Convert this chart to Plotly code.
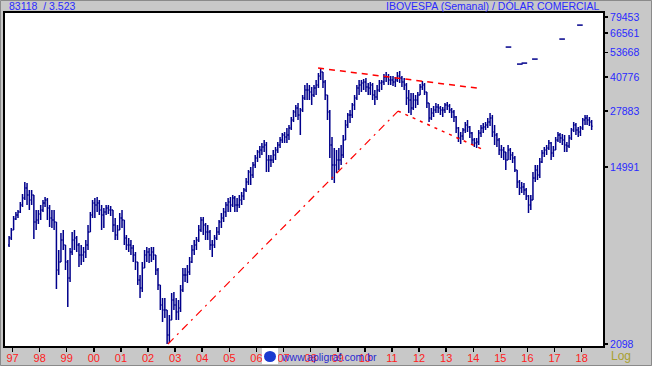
import pandas as pd
import plotly.graph_objects as go

# Monthly bars, Nov 1996 .. May 2018 (IBOVESPA in US$)
START = "1996-11-01"
HIGH = [
    6965, 7612,
    8698, 9093, 9297, 10162, 11106, 12690, 12550, 11610, 11610, 10983, 9297, 9297,
    9828, 10389, 10742, 10624, 9828, 9297, 9297, 8137, 5962, 7201, 7444, 6302,
    5335, 6096, 7281, 7444, 6965, 6444, 6302, 6164, 6662, 7870, 9093, 10389,
    10624, 10742, 10389, 9828, 9506, 9828, 9828, 9719, 9297, 8507, 7870, 8993,
    9297, 8319, 7043, 6812, 6662, 6302, 5831, 5218, 4516, 5218, 5962, 6164,
    6096, 6164, 6164, 5639, 4881, 4042, 3498, 3498, 3061, 2896, 3698, 3739,
    3498, 3421, 4042, 4881, 4881, 5046, 5515, 6302, 6662, 6888, 7870, 8602,
    8602, 8047, 7870, 7444, 6662, 7043, 7697, 8319, 8993, 9506, 10162, 10624,
    10742, 10983, 10862, 10624, 10983, 11356, 11872, 13267, 14499, 14992, 15851, 17131,
    18110, 18933, 19576, 20238, 19795, 17131, 17131, 18110, 18724, 19795, 20925, 21875,
    22120, 23126, 23908, 26132, 28243, 29857, 30528, 28880, 33368, 37284, 38122, 37284,
    36468, 37284, 39412, 42602, 45035, 43079, 39412, 33368, 28243, 20925, 18517, 18110,
    18517, 19143, 21394, 25273, 27319, 28243, 30528, 33368, 37284, 39412, 39412, 39855,
    40301, 38122, 38549, 38122, 35270, 37284, 39412, 39412, 42130, 43079, 42130, 41206,
    41206, 40752, 43079, 43559, 41206, 40301, 38122, 35270, 34115, 34115, 33368, 34496,
    37700, 38978, 38122, 34496, 30528, 28880, 29529, 30528, 30190, 29529, 29203, 30528,
    30869, 30190, 28880, 28243, 26423, 23385, 22120, 23126, 24719, 25273, 23645, 22120,
    20694, 20694, 22615, 23908, 24446, 24719, 25843, 27319, 26717, 23908, 21875, 20694,
    19143, 18724, 17713, 19143, 18517, 17713, 16943, 14499, 12975, 12690, 12550, 11872,
    10983, 10983, 14181, 15328, 15328, 16571, 18110, 18724, 19143, 20238, 19795, 18933,
    20925, 22120, 21875, 21633, 21394, 19795, 21394, 23126, 24719, 24446, 23385, 23645,
    25843, 26717, 26717, 26132, 25273,
]
LOW = [
    6164, 6662,
    7444, 8319, 8507, 8993, 9612, 10389, 9828, 9297, 9828, 6737, 7444, 7958,
    8319, 9093, 9612, 8319, 7697, 7612, 7444, 3866, 4516, 5218, 5962, 4773,
    3165, 4178, 5639, 5962, 5831, 4936, 5046, 5218, 5454, 5962, 7281, 8507,
    8507, 9093, 8795, 7444, 7612, 8795, 8893, 8698, 7281, 6662, 6662, 7444,
    7612, 6302, 5962, 5831, 5639, 5218, 4773, 4042, 3498, 3739, 4881, 5218,
    5160, 5218, 5335, 4516, 3823, 3061, 2679, 2801, 2098, 2121, 2739, 3061,
    2739, 2739, 2994, 3739, 4178, 4132, 4516, 5160, 5639, 5962, 6516, 7281,
    7043, 6662, 6662, 5962, 5515, 6096, 6662, 7043, 7612, 8137, 8602, 9093,
    9093, 9612, 9093, 9093, 9506, 9828, 10389, 11356, 12275, 12275, 13267, 14826,
    15851, 16571, 17131, 17713, 14181, 14181, 14992, 15676, 16206, 17517, 18517, 19576,
    19576, 19576, 20238, 22615, 24719, 26132, 25273, 21394, 27624, 31560, 31560, 31560,
    29857, 32634, 33368, 36064, 39412, 36064, 31560, 25273, 16571, 12975, 12550, 14024,
    14499, 15328, 16571, 20238, 23126, 24446, 25843, 28243, 31560, 33368, 34496, 35270,
    34496, 33368, 33368, 31560, 29857, 31560, 34496, 35270, 37284, 38549, 37284, 37284,
    36874, 36468, 38549, 38122, 36468, 35270, 29857, 27319, 26717, 28243, 28880, 29857,
    33368, 35270, 33368, 28880, 24719, 25273, 26132, 27319, 27319, 26717, 26132, 27319,
    28243, 27319, 25843, 24719, 21875, 19795, 19359, 20238, 21875, 22120, 20694, 19143,
    18724, 18517, 19143, 20925, 21875, 22615, 23126, 23645, 20925, 19143, 18724, 17131,
    16571, 16206, 14499, 16206, 16206, 15676, 14181, 11872, 10983, 11230, 10983, 10389,
    8993, 9297, 10389, 12690, 12975, 13267, 15676, 16756, 17131, 18110, 16206, 16756,
    18110, 19795, 19576, 19143, 17713, 17713, 18517, 20238, 22120, 21394, 20925, 21158,
    22615, 23908, 23908, 23645, 22615,
]
CLOSE = [
    6812, 7444,
    8413, 8795, 9093, 9828, 10624, 11872, 10983, 10389, 10983, 8137, 8319, 8893,
    9297, 10049, 10389, 9506, 8507, 8319, 8137, 4773, 5218, 6662, 6302, 5218,
    4368, 5831, 6662, 6812, 6302, 5639, 5639, 5831, 6302, 7281, 8795, 10049,
    9828, 10049, 9297, 8795, 9093, 9506, 9297, 9297, 7870, 7043, 7444, 8507,
    8319, 6812, 6302, 6302, 6096, 5639, 5218, 4272, 3909, 4881, 5639, 5831,
    5639, 5831, 5639, 4773, 4042, 3235, 3061, 3061, 2319, 2739, 3421, 3235,
    2994, 3130, 3823, 4516, 4516, 4669, 5218, 5962, 6302, 6662, 7444, 8319,
    7870, 7281, 7281, 6302, 6302, 6812, 7281, 8137, 8507, 9093, 9828, 10162,
    9828, 10624, 9828, 9828, 10389, 10862, 11610, 12690, 14181, 13716, 15328, 16571,
    17713, 18110, 18724, 19143, 16206, 16206, 16206, 17131, 18110, 19143, 20238, 21394,
    20925, 21394, 23126, 25273, 27624, 28880, 26717, 28243, 32273, 35270, 35270, 34496,
    33368, 36064, 37284, 41206, 43079, 38549, 33368, 27624, 19143, 15328, 15328, 16206,
    16206, 17131, 20238, 23908, 26717, 26717, 29857, 32273, 36064, 37284, 38122, 38549,
    36468, 36064, 37284, 33368, 32634, 35270, 38122, 38549, 40752, 40752, 39412, 39412,
    38549, 39412, 41206, 40301, 38549, 37284, 32273, 31560, 28880, 31560, 31560, 33368,
    36468, 37284, 34496, 30528, 25843, 27319, 28243, 29203, 28880, 28243, 28243, 29857,
    29529, 28243, 27624, 26132, 23126, 20694, 21158, 22615, 23908, 23385, 21875, 20238,
    19576, 19795, 21875, 23126, 23385, 23908, 24719, 25843, 22120, 21394, 20238, 18110,
    18110, 17713, 16206, 18110, 17131, 16571, 14499, 12690, 11872, 12004, 11610, 10862,
    9828, 10389, 13267, 14499, 13716, 15851, 17517, 18110, 18517, 19576, 17517, 18110,
    20238, 21394, 20694, 20238, 19143, 18933, 20694, 22615, 23908, 22615, 22120, 23126,
    25273, 25843, 25273, 24719, 23593,
]
FIRST_OPEN = 6300
OPEN = [FIRST_OPEN] + CLOSE[:-1]

# stray single-price bars at the top right
STRAY_DATES = ["2015-04-20", "2015-09-20", "2015-11-20", "2016-04-10", "2017-04-12", "2017-12-08"]
STRAY_VALUES = [56880, 47080, 47600, 49770, 62170, 72600]

# trend lines
SUPPORT_DATES = ["2002-09-26", "2011-03-24"]
SUPPORT_VALUES = [2098, 27930]
UPPER_DATES = ["2008-04-10", "2014-03-18"]
UPPER_VALUES = [45035, 35940]
LOWER_DATES = ["2011-03-24", "2014-04-28"]
LOWER_VALUES = [27930, 18312]

Y_TICKS = [2098, 14991, 27883, 40776, 53668, 66561, 79453]
X_TICK_YEARS = list(range(1997, 2019))

dates = pd.date_range(START, periods=len(CLOSE), freq="MS") + pd.Timedelta(days=14)

NAVY = "#00008B"
fig = go.Figure()
fig.add_trace(go.Ohlc(
    x=dates, open=OPEN, high=HIGH, low=LOW, close=CLOSE,
    increasing=dict(line=dict(color=NAVY, width=1.5)),
    decreasing=dict(line=dict(color=NAVY, width=1.5)),
    tickwidth=0.5, showlegend=False, hoverinfo="skip",
))
fig.add_trace(go.Scatter(
    x=STRAY_DATES, y=STRAY_VALUES, mode="markers",
    marker=dict(symbol="line-ew", size=4, line=dict(color=NAVY, width=1.5)),
    showlegend=False, hoverinfo="skip",
))
fig.add_trace(go.Scatter(x=SUPPORT_DATES, y=SUPPORT_VALUES, mode="lines",
                         line=dict(color="#ff0000", width=1.2, dash="8px,5px,2px,5px"),
                         showlegend=False, hoverinfo="skip"))
fig.add_trace(go.Scatter(x=UPPER_DATES, y=UPPER_VALUES, mode="lines",
                         line=dict(color="#ff0000", width=1.5, dash="6px,5px"),
                         showlegend=False, hoverinfo="skip"))
fig.add_trace(go.Scatter(x=LOWER_DATES, y=LOWER_VALUES, mode="lines",
                         line=dict(color="#ff0000", width=1.5, dash="3px,5px"),
                         showlegend=False, hoverinfo="skip"))

FONT = "Liberation Sans, Arial, sans-serif"
fig.update_layout(
    width=652, height=366, autosize=False,
    margin=dict(l=5, r=49, t=13, b=20, autoexpand=False),
    paper_bgcolor="#c8c8c8", plot_bgcolor="#ffffff",
    font=dict(family=FONT, size=11),
    xaxis=dict(
        type="date", range=["1996-09-21", "2018-10-15"],
        rangeslider=dict(visible=False), automargin=False,
        tickvals=[f"{y}-01-01" for y in X_TICK_YEARS],
        ticktext=[f"{y % 100:02d}" for y in X_TICK_YEARS],
        ticks="outside", ticklen=4, tickwidth=1.5, tickcolor="#000000",
        ticklabelstandoff=-3,
        tickfont=dict(color="#ff2020", size=11, family=FONT),
        showgrid=False, zeroline=False,
        showline=True, linecolor="#000000", linewidth=2, mirror=True,
    ),
    yaxis=dict(
        type="log", range=[3.3122, 4.9194], side="right", automargin=False,
        tickvals=Y_TICKS, ticktext=[str(v) for v in Y_TICKS],
        ticks="outside", ticklen=3, tickwidth=1.5, tickcolor="#000000",
        tickfont=dict(color="#2a2aff", size=10.5, family=FONT),
        showgrid=False, zeroline=False,
        showline=True, linecolor="#000000", linewidth=2, mirror=True,
    ),
    annotations=[
        dict(text="83118  / 3.523", xref="paper", yref="paper", x=0.003, y=1.02,
             xanchor="left", yanchor="middle", showarrow=False,
             font=dict(color="#2a2aff", size=10.5, family=FONT)),
        dict(text="IBOVESPA (Semanal) / DÓLAR COMERCIAL", xref="paper", yref="paper",
             x=0.998, y=1.02, xanchor="right", yanchor="middle", showarrow=False,
             font=dict(color="#2a2aff", size=10.5, family=FONT)),
        dict(text="Log", xref="paper", yref="paper", x=1.01, y=-0.03,
             xanchor="left", yanchor="middle", showarrow=False,
             font=dict(color="#a8a030", size=12, family=FONT)),
        dict(text="www.apligraf.com.br", xref="paper", yref="paper", x=0.458, y=-0.033,
             xanchor="left", yanchor="middle", showarrow=False,
             font=dict(color="#2a2ad0", size=10.5, family=FONT)),
    ],
    shapes=[
        dict(type="rect", xref="paper", yref="paper",
             x0=(262 - 5) / 598, x1=(278 - 5) / 598, y0=(346 - 364) / 333, y1=(346 - 348) / 333,
             fillcolor="#ffffff", line=dict(width=0), layer="above"),
        dict(type="circle", xref="paper", yref="paper",
             x0=(264 - 5) / 598, x1=(276 - 5) / 598, y0=(346 - 362) / 333, y1=(346 - 351) / 333,
             fillcolor="#1a3ad0", line=dict(width=0), layer="above"),
        dict(type="rect", xref="paper", yref="paper",
             x0=(0.5 - 5) / 598, x1=(651.5 - 5) / 598, y0=(346 - 365.5) / 333, y1=(346 - 0.5) / 333,
             line=dict(color="#8a8a8a", width=1), layer="below"),
    ],
)

fig.write_html(
    "out.html",
    config={"displayModeBar": False, "staticPlot": True},
    post_script="document.body.style.margin='0';document.body.style.padding='0';"
                "document.documentElement.style.overflow='hidden';",
)
